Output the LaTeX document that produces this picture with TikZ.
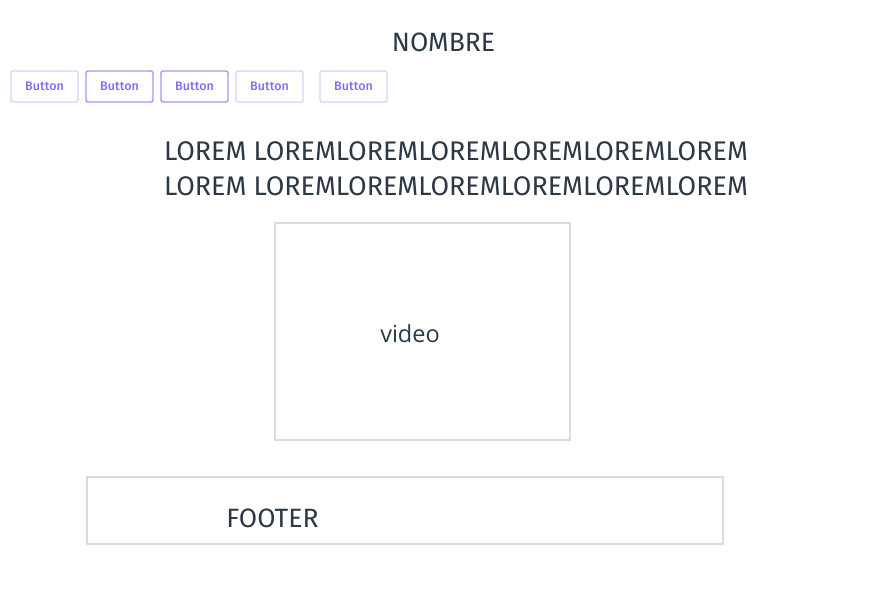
\documentclass[tikz,border=0pt]{standalone}
\usepackage{fontspec}
\setmainfont{Fira Sans}
\newfontfamily\videofont{Open Sans}
\newfontfamily\btnfont{Fira Sans}[UprightFont=* Medium]
\usetikzlibrary{positioning}
\definecolor{inktext}{RGB}{43,56,69}
\definecolor{btnink}{RGB}{125,112,242}
\definecolor{btnlight}{RGB}{214,209,251}
\definecolor{btndark}{RGB}{160,152,243}
\definecolor{boxline}{RGB}{211,220,230}
\tikzset{
  wtitle/.style={inktext, font=\fontsize{26.5}{30}\selectfont, inner sep=0pt, anchor=base},
  wlorem/.style={wtitle, font=\fontsize{26.9}{30}\selectfont},
  wbtn/.style={rectangle, rounded corners=2pt, draw=btnlight, line width=1.4pt,
               minimum width=67pt, minimum height=31pt, inner sep=0pt,
               text=btnink, font=\btnfont\fontsize{12.5}{14}\selectfont},
  wbtnon/.style={wbtn, draw=btndark},
  wbox/.style={rectangle, draw=boxline, line width=1.4pt, inner sep=0pt},
}

\begin{document}
\begin{tikzpicture}[x=1pt, y=-1pt]
  \useasboundingbox (0,0) rectangle (888,591);
  \node[wtitle] (nombre) at (443.5,52) {NOMBRE};
  % button row
  \node[wbtn]   (b1) at (44.5,86.5)  {Button};
  \node[wbtnon] (b2) at (119.5,86.5) {Button};
  \node[wbtnon] (b3) at (194.5,86.5) {Button};
  \node[wbtn]   (b4) at (269.5,86.5) {Button};
  \node[wbtn]   (b5) at (353.5,86.5) {Button};
  \node[wlorem] (lorem1) at (456,160) {LOREM LOREMLOREMLOREMLOREMLOREMLOREM};
  \node[wlorem] (lorem2) at (456,195) {LOREM LOREMLOREMLOREMLOREMLOREMLOREM};
  % video and footer
  \node[wbox, minimum width=295pt, minimum height=217pt] (video) at (422.5,331.5) {};
  \node[inktext, font=\videofont\fontsize{23.5}{26}\selectfont, inner sep=0pt, anchor=base]
       (videotxt) at (410,342) {video};
  \node[wbox, minimum width=636pt, minimum height=67pt] (footer) at (405,510.5) {};
  \node[wtitle] (footertxt) at (272.5,527) {FOOTER};
\end{tikzpicture}
\end{document}
